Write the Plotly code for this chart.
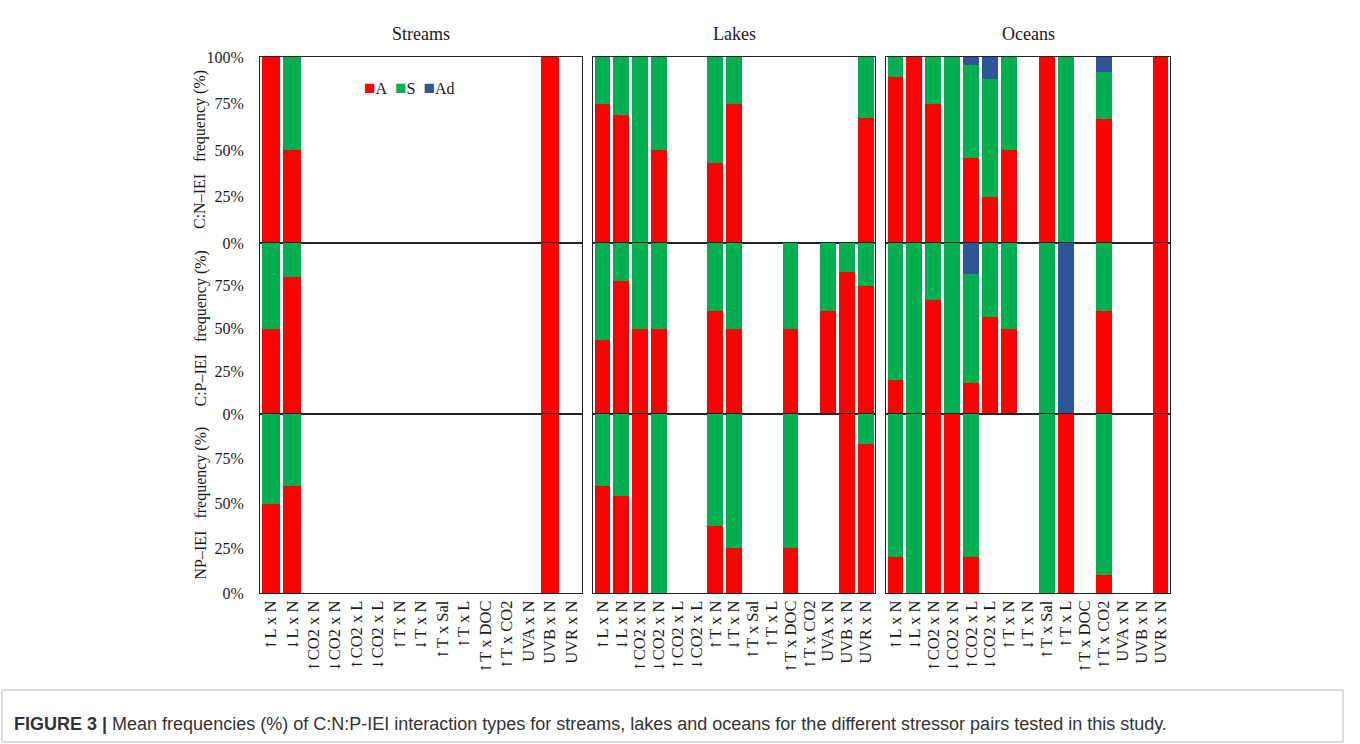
import plotly.graph_objects as go

W, H = 1360, 744

categories = ["↑L x N", "↓L x N", "↑CO2 x N", "↓CO2 x N", "↑CO2 x L", "↓CO2 x L",
              "↑T x N", "↓T x N", "↑T x Sal", "↑T x L", "↑T x DOC", "↑T x CO2",
              "UVA x N", "UVB x N", "UVR x N"]
environments = ["Streams", "Lakes", "Oceans"]
row_titles = ["C:N\u2013IEI   frequency (%)", "C:P\u2013IEI   frequency (%)", "NP\u2013IEI   frequency (%)"]
types = ["A", "S", "Ad"]
colors = {"A": "#FF0000", "S": "#00AF50", "Ad": "#2E5597"}
N = None

# ---- Streams ----
streams_cn_A  = [100, 50, N, N, N, N, N, N, N, N, N, N, N, 100, N]
streams_cn_S  = [0, 50, N, N, N, N, N, N, N, N, N, N, N, 0, N]
streams_cn_Ad = [0, 0, N, N, N, N, N, N, N, N, N, N, N, 0, N]
streams_cp_A  = [50, 80, N, N, N, N, N, N, N, N, N, N, N, 100, N]
streams_cp_S  = [50, 20, N, N, N, N, N, N, N, N, N, N, N, 0, N]
streams_cp_Ad = [0, 0, N, N, N, N, N, N, N, N, N, N, N, 0, N]
streams_np_A  = [50, 60, N, N, N, N, N, N, N, N, N, N, N, 100, N]
streams_np_S  = [50, 40, N, N, N, N, N, N, N, N, N, N, N, 0, N]
streams_np_Ad = [0, 0, N, N, N, N, N, N, N, N, N, N, N, 0, N]

# ---- Lakes ----
lakes_cn_A  = [75, 69, 0, 50, N, N, 43, 75, N, N, N, N, N, N, 67]
lakes_cn_S  = [25, 31, 100, 50, N, N, 57, 25, N, N, N, N, N, N, 33]
lakes_cn_Ad = [0, 0, 0, 0, N, N, 0, 0, N, N, N, N, N, N, 0]
lakes_cp_A  = [43, 78, 50, 50, N, N, 60, 50, N, N, 50, N, 60, 83, 75]
lakes_cp_S  = [57, 22, 50, 50, N, N, 40, 50, N, N, 50, N, 40, 17, 25]
lakes_cp_Ad = [0, 0, 0, 0, N, N, 0, 0, N, N, 0, N, 0, 0, 0]
lakes_np_A  = [60, 54, 100, 0, N, N, 37.5, 25, N, N, 25, N, N, 100, 83]
lakes_np_S  = [40, 46, 0, 100, N, N, 62.5, 75, N, N, 75, N, N, 0, 17]
lakes_np_Ad = [0, 0, 0, 0, N, N, 0, 0, N, N, 0, N, N, 0, 0]

# ---- Oceans ----
oceans_cn_A  = [89, 100, 75, 0, 45.5, 25, 50, N, 100, 0, N, 66.7, N, N, 100]
oceans_cn_S  = [11, 0, 25, 100, 50, 63, 50, N, 0, 100, N, 25, N, N, 0]
oceans_cn_Ad = [0, 0, 0, 0, 4.5, 12, 0, N, 0, 0, N, 8.3, N, N, 0]
oceans_cp_A  = [20, 0, 66.7, 0, 18, 57, 50, N, 0, 0, N, 60, N, N, 100]
oceans_cp_S  = [80, 100, 33.3, 100, 64, 43, 50, N, 100, 0, N, 40, N, N, 0]
oceans_cp_Ad = [0, 0, 0, 0, 18, 0, 0, N, 0, 100, N, 0, N, N, 0]
oceans_np_A  = [20, 0, 100, 100, 20, N, N, N, 0, 100, N, 10, N, N, 100]
oceans_np_S  = [80, 100, 0, 0, 80, N, N, N, 100, 0, N, 90, N, N, 0]
oceans_np_Ad = [0, 0, 0, 0, 0, N, N, N, 0, 0, N, 0, N, N, 0]

data = {
    "Streams": [(streams_cn_A, streams_cn_S, streams_cn_Ad),
                (streams_cp_A, streams_cp_S, streams_cp_Ad),
                (streams_np_A, streams_np_S, streams_np_Ad)],
    "Lakes":   [(lakes_cn_A, lakes_cn_S, lakes_cn_Ad),
                (lakes_cp_A, lakes_cp_S, lakes_cp_Ad),
                (lakes_np_A, lakes_np_S, lakes_np_Ad)],
    "Oceans":  [(oceans_cn_A, oceans_cn_S, oceans_cn_Ad),
                (oceans_cp_A, oceans_cp_S, oceans_cp_Ad),
                (oceans_np_A, oceans_np_S, oceans_np_Ad)],
}

# layout geometry (pixels)
col_px = [(260, 582), (593, 875), (886, 1170)]
row_px = [(57, 243), (243, 414), (414, 593)]

SERIF = "Liberation Serif, Times New Roman, serif"


def fmt_label(s):
    # render the arrow glyph with a font whose arrows are full height
    for a in ("↑", "↓"):
        if s.startswith(a):
            return f"<span style='font-family:DejaVu Serif;font-size:14px'>{a}</span>{s[1:]}"
    return s


tick_labels = [fmt_label(c) for c in categories]

fig = go.Figure()
layout = dict(
    width=W, height=H, margin=dict(l=0, r=0, t=0, b=0, pad=0, autoexpand=False),
    paper_bgcolor="white", plot_bgcolor="white",
    barmode="stack", bargap=0.16,
    showlegend=False,
    font=dict(family=SERIF, size=15, color="#1a1a1a"),
)

idx = 0
for ci, env in enumerate(environments):
    for ri in range(3):
        idx += 1
        xa = "x" if idx == 1 else f"x{idx}"
        ya = "y" if idx == 1 else f"y{idx}"
        vals = data[env][ri]
        for ti, t in enumerate(types):
            fig.add_trace(go.Bar(
                x=categories, y=vals[ti], name=t,
                marker=dict(color=colors[t], line=dict(width=0)),
                xaxis=xa, yaxis=ya,
                showlegend=False, legendgroup=t,
                hoverinfo="x+y+name",
            ))
        x0, x1 = col_px[ci]
        y0, y1 = row_px[ri]
        xkey = "xaxis" if idx == 1 else f"xaxis{idx}"
        ykey = "yaxis" if idx == 1 else f"yaxis{idx}"
        layout[xkey] = dict(
            domain=[x0 / W, x1 / W], anchor=ya, automargin=False,
            type="category",
            categoryorder="array", categoryarray=categories,
            tickmode="array", tickvals=categories, ticktext=tick_labels,
            showline=True, mirror=True, linecolor="#222", linewidth=1,
            showgrid=False, ticks="", zeroline=False,
            showticklabels=(ri == 2), tickangle=-90,
            tickfont=dict(family=SERIF, size=16.5, color="#1a1a1a"),
            fixedrange=True,
        )
        tv = [0, 25, 50, 75, 100] if ri == 0 else [0, 25, 50, 75]
        layout[ykey] = dict(
            domain=[1 - y1 / H, 1 - y0 / H], anchor=xa, automargin=False,
            range=[0, 100],
            showline=True, mirror=True, linecolor="#222", linewidth=1,
            showgrid=False, ticks="", zeroline=False,
            tickvals=tv, ticktext=[f"{v}%" for v in tv],
            showticklabels=(ci == 0), ticklabelstandoff=12,
            tickfont=dict(family=SERIF, size=16, color="#1a1a1a"),
            fixedrange=True,
        )

annotations = []
# legend drawn as text with coloured squares
legend_text = "&nbsp;&nbsp;".join(
    f"<span style='color:{colors[t]};font-size:19px'>\u25A0</span>{t}" for t in types)
annotations.append(dict(
    text=legend_text, x=362 / W, y=1 - 87 / H, xref="paper", yref="paper",
    showarrow=False, xanchor="left", yanchor="middle",
    font=dict(family=SERIF, size=16, color="#1a1a1a"),
))
for ci, env in enumerate(environments):
    x0, x1 = col_px[ci]
    annotations.append(dict(
        text=env, x=(x0 + x1) / 2 / W, y=1 - 34 / H, xref="paper", yref="paper",
        showarrow=False, xanchor="center", yanchor="middle",
        font=dict(family=SERIF, size=18, color="#1a1a1a"),
    ))
for ri, rt in enumerate(row_titles):
    y0, y1 = row_px[ri]
    annotations.append(dict(
        text=rt, x=200 / W, y=1 - (y0 + y1) / 2 / H, xref="paper", yref="paper",
        showarrow=False, textangle=-90, xanchor="center", yanchor="middle",
        font=dict(family=SERIF, size=16, color="#1a1a1a"),
    ))
annotations.append(dict(
    text="<b>FIGURE 3 |</b> Mean frequencies (%) of C:N:P-IEI interaction types for streams, lakes and oceans for the different stressor pairs tested in this study.",
    x=12 / W, y=1 - 724 / H, xref="paper", yref="paper", showarrow=False,
    xanchor="left", yanchor="middle",
    font=dict(family="Liberation Sans, Arial, sans-serif", size=18, color="#333"),
))
layout["annotations"] = annotations
layout["shapes"] = [dict(
    type="rect", xref="paper", yref="paper",
    x0=2 / W, x1=1343 / W, y0=1 - 742 / H, y1=1 - 690 / H,
    line=dict(color="#bbbbbb", width=1), fillcolor="rgba(0,0,0,0)",
)]

fig.update_layout(**layout)
fig.write_html("out.html", config={"displayModeBar": False},
               post_script="document.body.style.margin='0';document.body.style.overflow='hidden';")
